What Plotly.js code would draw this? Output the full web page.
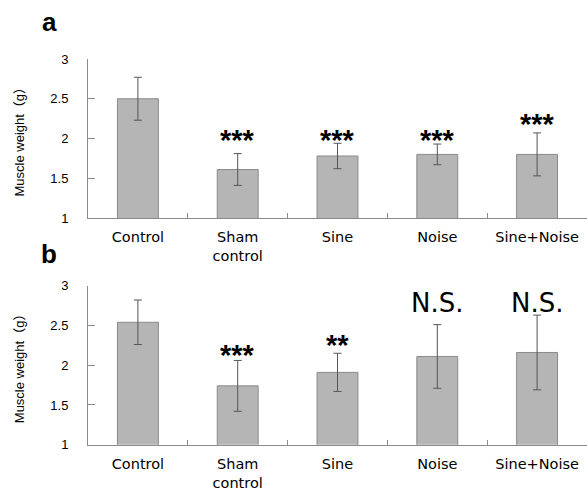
<!DOCTYPE html>
<html>
<head>
<meta charset="utf-8">
<script src="https://cdn.plot.ly/plotly-3.0.1.min.js"></script>
<style>html,body{margin:0;padding:0;background:#fff;}#chart{width:587px;height:488px;}</style>
</head>
<body>
<div id="chart"></div>
<script>
// ---- data ----
const categories = ['Control', 'Sham<br>control', 'Sine', 'Noise', 'Sine+Noise'];
const weightA = [2.50, 1.61, 1.78, 1.80, 1.80];
const errorA  = [0.27, 0.20, 0.16, 0.13, 0.27];
const sigA    = ['', '***', '***', '***', '***'];
const sigLevelA = [null, 2.04, 2.04, 2.04, 2.25];

const weightB = [2.54, 1.74, 1.91, 2.11, 2.16];
const errorB  = [0.28, 0.32, 0.24, 0.40, 0.47];
const sigB    = ['', '***', '**', 'N.S.', 'N.S.'];
const sigLevelB = [null, 2.19, 2.32, 2.78, 2.78];

const yTickVals = [1, 1.5, 2, 2.5, 3];
const yTickText = ['1', '1.5', '2', '2.5', '3'];
const yTitle = 'Muscle weight（g）';
const panelLabels = ['a', 'b'];

// ---- styling ----
const W = 587, H = 488, L = 88;
const px = v => (v - L) / (W - L);
const barStyle = {
  color: '#b8b8b8',
  line: {color: '#8a8a8a', width: 1},
  pattern: {shape: '.', fgcolor: '#909090', bgcolor: '#d2d2d2', size: 2, solidity: 0.5}
};
function barTrace(vals, errs, xa, ya) {
  return {
    type: 'bar', x: categories, y: vals, xaxis: xa, yaxis: ya,
    marker: barStyle, width: 0.41,
    error_y: {type: 'data', array: errs, visible: true, color: '#555', thickness: 1, width: 4},
    hoverinfo: 'skip', showlegend: false
  };
}
const data = [barTrace(weightA, errorA, 'x', 'y'), barTrace(weightB, errorB, 'x2', 'y2')];

const xAxisBase = {
  type: 'category', range: [-0.5, 4.5], showgrid: false, zeroline: false,
  showline: true, linecolor: '#8a8a8a', linewidth: 1,
  ticks: 'inside', tickson: 'boundaries', ticklen: 5, tickcolor: '#8a8a8a',
  tickfont: {family: 'DejaVu Sans', size: 14.5, color: '#000'},
  ticklabelstandoff: 6, fixedrange: true
};
const yAxisBase = {
  range: [1, 3], tickvals: yTickVals, ticktext: yTickText,
  showgrid: false, zeroline: false, showline: true, linecolor: '#8a8a8a', linewidth: 1,
  ticks: 'inside', ticklen: 7, tickcolor: '#8a8a8a',
  tickfont: {family: 'Liberation Sans, Arial', size: 13, color: '#000'},
  ticklabelstandoff: 16, fixedrange: true
};
const domA = [1 - 218 / H, 1 - 59 / H];
const domB = [1 - 444.7 / H, 1 - 285.7 / H];

const annotations = [];
function addSig(sig, lvl, xa, ya) {
  sig.forEach((s, i) => {
    if (!s) return;
    const isNS = s === 'N.S.';
    annotations.push({
      xref: xa, yref: ya, x: categories[i], y: lvl[i], text: s, showarrow: false,
      yanchor: 'middle', yshift: isNS ? 0 : -5,
      font: isNS ? {family: 'DejaVu Sans', size: 26, color: '#000'}
                 : {family: 'Liberation Sans', size: 29, color: '#000', weight: 'bold'}
    });
  });
}
addSig(sigA, sigLevelA, 'x', 'y');
addSig(sigB, sigLevelB, 'x2', 'y2');
[[domA, panelLabels[0], 22], [domB, panelLabels[1], 254]].forEach(([dom, lab, yc]) => {
  annotations.push({
    xref: 'paper', yref: 'paper', x: px(19), y: (dom[0] + dom[1]) / 2, text: yTitle,
    textangle: -90, showarrow: false, xanchor: 'center', yanchor: 'middle',
    font: {family: 'Liberation Sans, Noto Sans CJK JP', size: 13, color: '#000'}
  });
  annotations.push({
    xref: 'paper', yref: 'paper', x: px(49), y: 1 - yc / H, text: '<b>' + lab + '</b>',
    showarrow: false, xanchor: 'center', yanchor: 'middle',
    font: {family: 'Liberation Sans, Arial', size: 26, color: '#000'}
  });
});

const layout = {
  width: W, height: H, margin: {l: L, r: 0, t: 0, b: 0, autoexpand: false},
  paper_bgcolor: '#fff', plot_bgcolor: '#fff', bargap: 0.59,
  xaxis: Object.assign({}, xAxisBase, {domain: [0, 1], anchor: 'y'}),
  yaxis: Object.assign({}, yAxisBase, {domain: domA, anchor: 'x'}),
  xaxis2: Object.assign({}, xAxisBase, {domain: [0, 1], anchor: 'y2'}),
  yaxis2: Object.assign({}, yAxisBase, {domain: domB, anchor: 'x2'}),
  annotations: annotations
};
Plotly.newPlot('chart', data, layout, {staticPlot: true, displayModeBar: false});
</script>
</body>
</html>
